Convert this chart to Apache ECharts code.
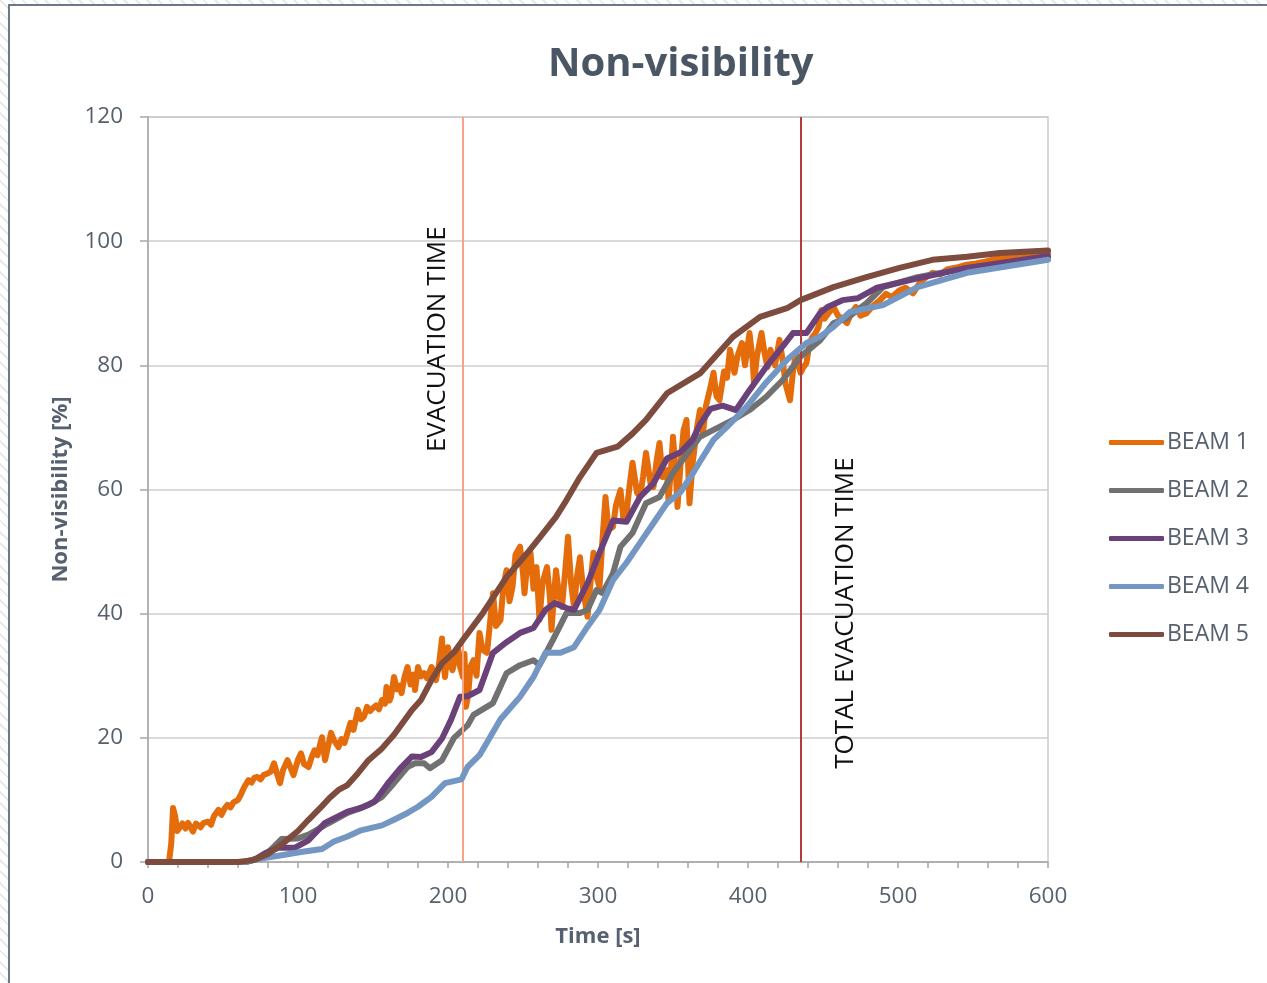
<!DOCTYPE html>
<html>
<head>
<meta charset="utf-8">
<script src="https://cdn.jsdelivr.net/npm/echarts@6/dist/echarts.min.js"></script>
<style>
html,body{margin:0;padding:0;width:1267px;height:983px;overflow:hidden;
background:repeating-linear-gradient(45deg,#ffffff 0px,#ffffff 6px,#e9e9e9 6px,#e9e9e9 8px);}
#frame{position:absolute;left:8px;top:4px;width:1300px;height:1000px;background:#fff;border-left:2px solid #6a7888;border-top:2px solid #6a7888;}
#chart{position:absolute;left:0;top:0;width:1267px;height:983px;}
</style>
</head>
<body>
<div id="frame"></div>
<div id="chart"></div>
<script>
const seriesNames = ['BEAM 1','BEAM 2','BEAM 3','BEAM 4','BEAM 5'];
const xTicks = [0,100,200,300,400,500,600];
const yTicks = [0,20,40,60,80,100,120];
const evacuationTime = 210;
const totalEvacuationTime = 435;

const beam1T = [0,14,15.5,16.7,18,19.5,21,23,25,26.7,28,30,32,33,35,37,40,42,44,47,49,51,53,55,57,60,62,64,67,69,71,73,75,77,80,82,84,86,88,90,93,95,97,98,100,102,104,107,109,111,113,115,116,118,120,122,124,127,129,131,133,135,137,140,142,144,146,148,150,152,154,156,158,159,161,162,164,166,168,169,171,173,175,177,178,180,182,184,186,188,189,191,192,194,196,197,198,200,202,203,205,207,208,210,211,212,213.5,215,217,219,221,223,226,228,230,232,235,237,239,241,243,245,248,250,251,253,255,257,259,261,263,266,268,269,271,272,274,276,278,280,282,284,286,288,290,293,295,297,299,301,303,305,307,310,312,315,317,319,321,323,326,328,330,332,335,337,339,341,343,346,347,349,350,352,353,355,357,359,361,363,366,368,370,372,375,377,379,381,384,386,388,390,391,393,396,398,401,403,404,406,409,411,413,415,418,421,423,425,428,430,432,434,435,437,439,441,443,445,447,449,451,454,457,460,463,466,469,472,475,479,483,488,492,496,501,505,510,515,519,523,528,533,540,546,552,558,568,578,590,600];
const beam1V = [0,0,3,8.7,7.5,5,5.5,6.2,5.4,6.3,5.8,4.9,6.2,6.5,5.6,6.3,6.5,6.0,7.4,8.4,7.6,8.6,9.2,8.8,9.6,10.0,10.9,12.0,13.2,12.8,13.6,13.7,13.3,14.0,14.3,14.6,15.9,14.2,12.7,14.8,16.4,15.2,14.0,14.3,16.5,17.5,15.8,15.3,16.8,18.0,17.2,19.2,20.1,16.4,18.6,20.8,19.6,18.5,19.8,19.2,20.8,22.4,21.3,24.5,23.0,23.4,25.0,24.3,24.8,25.2,24.6,26.1,25.5,28.2,26.0,26.6,29.8,27.8,28.4,27.2,29.8,31.4,28.6,30.2,27.7,31.4,29.9,30.4,29.6,30.8,31.4,30.4,29.3,31.8,36.0,32.0,29.8,34.6,31.5,30.9,33.0,34.1,31.5,29.8,33.5,25.0,27.0,31.5,32.5,30.0,36.9,34.2,33.7,38.5,43.3,38.0,39.0,44.5,47.0,42.0,44.3,49.5,50.8,46.5,43.3,48.5,49.8,44.0,47.5,39.0,45.0,47.5,42.5,37.4,44.0,47.0,43.0,41.1,46.5,52.4,45.0,41.1,46.0,49.1,44.0,39.5,45.0,49.8,46.0,44.3,52.0,58.8,53.5,54.0,57.5,59.9,55.0,56.2,60.5,64.3,59.5,58.8,62.0,65.9,61.0,60.4,64.5,67.5,62.0,63.1,58.3,64.5,68.5,62.0,57.2,64.0,69.5,71.2,57.8,64.0,70.0,72.8,69.1,73.5,76.5,78.8,75.0,74.4,79.0,78.0,82.5,80.0,78.8,81.5,83.6,80.0,85.2,81.0,77.2,81.5,85.2,82.0,79.7,82.5,80.0,84.1,81.0,77.0,74.4,79.0,82.0,80.0,78.8,79.7,80.4,83.5,84.6,85.2,86.2,88.9,87.5,88.5,89.4,88.0,87.5,86.8,88.5,89.4,88.0,88.4,89.5,90.5,91.5,91.0,92.1,92.5,91.6,93.5,94.2,94.9,94.6,95.5,95.8,96.2,96.4,96.7,97.3,97.5,97.8,98.0];

const beam2T = [0,65,75,82,89,100,107,120,133,147,156,164,173,178,184,188,196,204,213,217,230,239,248,257,261,270,279,288,293,299,303,310,315,323,332,341,350,363,368,377,390,401,412,423,435,448,457,466,479,490,513,546,600];
const beam2V = [0,0,0.6,2,3.7,3.8,4.4,6.2,7.9,9.2,10.5,12.7,15.3,15.9,15.9,15.1,16.4,20,22,23.7,25.6,30.4,31.7,32.5,31.7,35.8,40.1,40.1,40.6,43.8,43.3,46.5,50.8,53,57.8,58.8,62.7,66.9,68.5,69.6,71.2,72.8,74.9,77.6,81.4,84,86.8,87.6,90,92.6,94.2,95.7,97.3];

const beam3T = [0,65,72,78,87,98,107,118,133,142,151,160,169,176,182,189,196,202,208,213,221,230,239,248,257,265,271,279,284,293,301,310,319,328,337,346,355,363,368,375,383,392,401,412,423,430,439,448,453,463,473,486,513,546,600];
const beam3V = [0,0,0.5,1.4,2.3,2.3,3.5,6.3,8.1,8.7,9.7,12.7,15.3,17,16.9,17.7,19.9,22.9,26.6,26.7,27.7,33.7,35.4,36.9,37.7,40.6,41.7,40.9,40.6,44.9,49.8,55,54.8,58.8,61,65,66,68,70.5,73,73.5,72.8,76,79.7,83,85.2,85.2,88.4,89.4,90.5,90.8,92.5,94,95.7,97.6];

const beam4T = [0,65,71,89,102,116,124,133,142,156,164,173,180,189,198,209,213,221,235,248,257,265,275,284,293,301,310,319,328,337,346,355,363,368,377,386,399,412,426,439,448,457,468,490,513,546,600];
const beam4V = [0,0,0.4,1.1,1.6,2.1,3.3,4.1,5.1,5.9,6.8,7.9,8.9,10.5,12.7,13.3,15.3,17.2,23,26.6,29.8,33.7,33.7,34.6,37.9,40.6,45.4,48.2,51.4,54.6,57.8,59.6,62.5,64.5,68,70.1,73.3,77.2,80.9,83.6,84.6,86.2,88.6,89.7,92.6,94.9,97];

const beam5T = [0,60,70,80,90,100,107,116,121,127,133,140,147,156,164,176,182,189,196,204,210,223,239,253,261,272,279,288,299,313,323,332,346,368,390,408,426,435,457,479,501,523,546,568,600];
const beam5V = [0,0,0.3,1.3,3.0,5.0,6.8,9.0,10.3,11.6,12.4,14.3,16.4,18.3,20.5,24.5,26.1,29.3,32,33.8,35.8,40,45.9,49.8,52.2,55.6,58.3,62,65.9,66.9,69,71.2,75.5,78.7,84.6,87.8,89.2,90.5,92.6,94.2,95.7,97,97.5,98.1,98.5];

const colors = ['#E46C0A','#717171','#6A4179','#7396C2','#7E4C3E'];
const allT = [beam1T,beam2T,beam3T,beam4T,beam5T];
const allV = [beam1V,beam2V,beam3V,beam4V,beam5V];

const labelFont = "'Open Sans', sans-serif";
const textColor = '#56606e';

const chart = echarts.init(document.getElementById('chart'), null, {renderer:'canvas'});
const series = seriesNames.map((name,i)=>({
  name:name, type:'line', symbol:'none', smooth:false,
  data: allT[i].map((t,k)=>[t, allV[i][k]]),
  lineStyle:{color:colors[i], width:6, join:'round', cap:'round'},
  itemStyle:{color:colors[i]},
  z: 2+i
}));
series.push({
  name:'markers', type:'line', data:[], z:20,
  markLine:{silent:true, symbol:['none','none'], animation:false,
    label:{show:false},
    data:[
      {xAxis:evacuationTime, lineStyle:{color:'#F7A385', width:2, type:'solid'}},
      {xAxis:totalEvacuationTime, lineStyle:{color:'#B53A3C', width:2, type:'solid'}}
    ]}
});

chart.setOption({
  animation:false,
  backgroundColor:'transparent',
  title:{text:'Non-visibility', left:543, top:40,
    textStyle:{fontFamily:labelFont, fontWeight:'bold', fontSize:40, color:'#4b5665'}},
  grid:{left:148, right:219, top:117, bottom:121, show:true, borderColor:'#cccccc', borderWidth:1.5, backgroundColor:'transparent'},
  legend:{orient:'vertical', left:1104, top:426, itemWidth:55, itemHeight:5, itemGap:25, icon:'roundRect',
    data:seriesNames,
    textStyle:{fontFamily:labelFont, fontSize:23, color:textColor, padding:[0,0,0,-2]}},
  xAxis:{type:'value', min:xTicks[0], max:xTicks[xTicks.length-1], interval:100,
    name:'Time [s]', nameLocation:'middle', nameGap:64,
    nameTextStyle:{fontFamily:labelFont, fontWeight:'bold', fontSize:22, color:textColor},
    axisLine:{show:true, lineStyle:{color:'#a6a6a6', width:1.5}},
    axisTick:{show:true, length:6, lineStyle:{color:'#a6a6a6', width:1.5}},
    minorTick:{show:true, splitNumber:5, length:6, lineStyle:{color:'#a6a6a6', width:1.5}},
    splitLine:{show:false},
    axisLabel:{fontFamily:labelFont, fontSize:22.5, color:textColor, margin:23}},
  yAxis:{type:'value', min:yTicks[0], max:yTicks[yTicks.length-1], interval:20,
    name:'Non-visibility [%]', nameLocation:'middle', nameGap:76,
    nameTextStyle:{fontFamily:labelFont, fontWeight:'bold', fontSize:22, color:textColor},
    axisLine:{show:true, lineStyle:{color:'#a6a6a6', width:1.5}},
    axisTick:{show:true, length:8, lineStyle:{color:'#a6a6a6', width:1.5}},
    splitLine:{show:true, lineStyle:{color:'#cccccc', width:1.5}},
    axisLabel:{fontFamily:labelFont, fontSize:22.5, color:textColor, margin:25}},
  series:series
});

const p1 = chart.convertToPixel({gridIndex:0}, [evacuationTime, 84.2]);
const p2 = chart.convertToPixel({gridIndex:0}, [totalEvacuationTime, 40.1]);
chart.setOption({graphic:[
  {type:'text', x:p1[0]-25, y:p1[1], rotation:Math.PI/2,
   style:{text:'EVACUATION TIME', fontFamily:labelFont, fontSize:26, fill:'#111', align:'center', verticalAlign:'middle'}},
  {type:'text', x:p2[0]+45, y:p2[1], rotation:Math.PI/2,
   style:{text:'TOTAL EVACUATION TIME', fontFamily:labelFont, fontSize:26, fill:'#111', align:'center', verticalAlign:'middle'}}
]});
</script>
</body>
</html>
